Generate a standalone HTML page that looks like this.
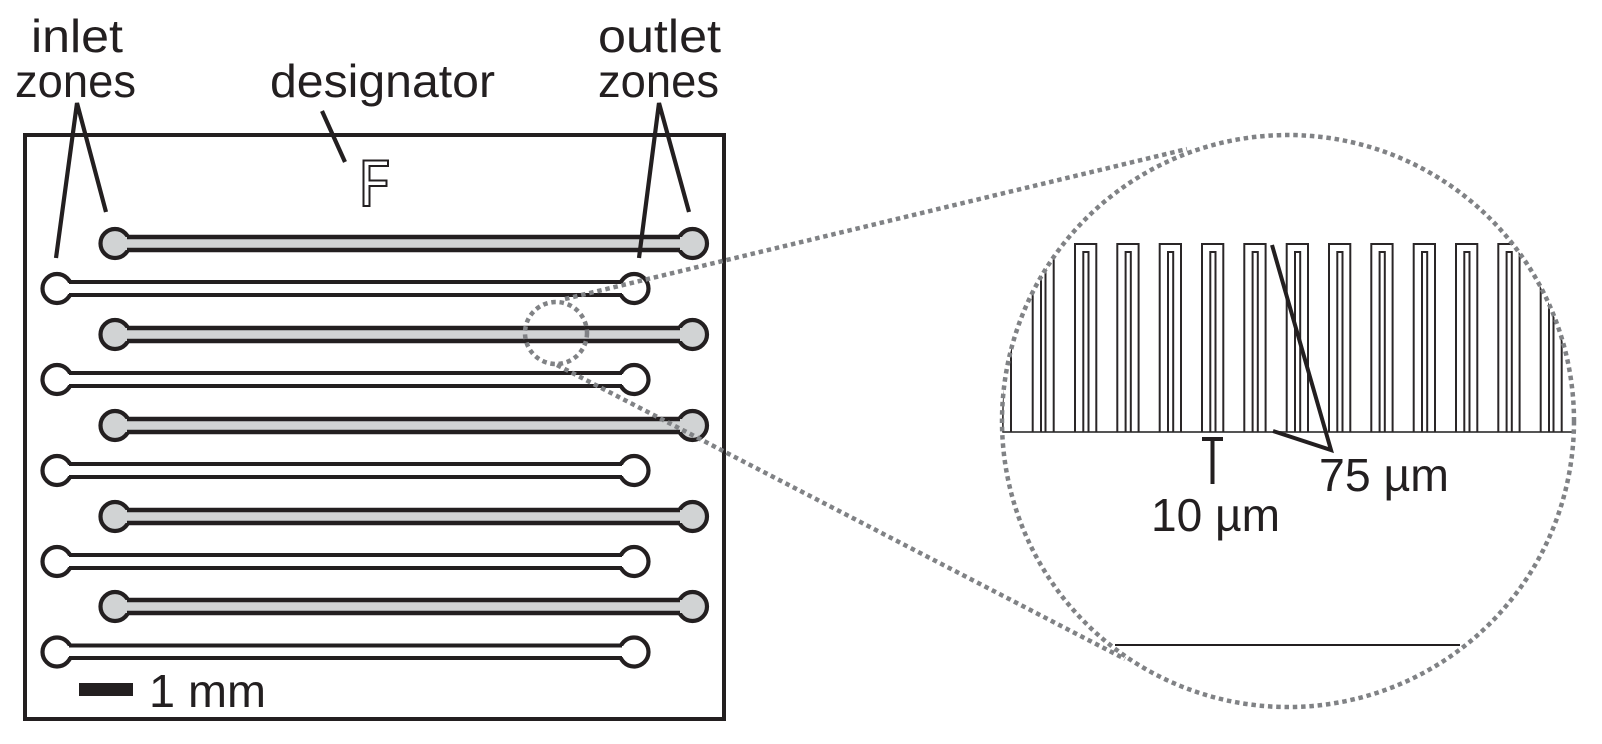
<!DOCTYPE html>
<html><head><meta charset="utf-8"><style>
html,body{margin:0;padding:0;background:#fff}
svg{display:block}
text{font-family:"Liberation Sans",sans-serif;font-size:46px;fill:#231f20}
</style></head><body>
<svg xmlns="http://www.w3.org/2000/svg" width="1602" height="744" viewBox="0 0 1602 744">
<defs><clipPath id="c"><circle cx="1288" cy="421" r="286"/></clipPath></defs>
<rect width="1602" height="744" fill="#fff"/>
<rect x="25" y="135" width="699" height="584" fill="none" stroke="#231f20" stroke-width="4"/>

<g stroke="#231f20" stroke-width="4.200" fill="#d1d3d4">
<circle cx="115" cy="243.500" r="14.500"/><circle cx="692.500" cy="243.500" r="14.500"/>
<circle cx="115" cy="334.500" r="14.500"/><circle cx="692.500" cy="334.500" r="14.500"/>
<circle cx="115" cy="425.500" r="14.500"/><circle cx="692.500" cy="425.500" r="14.500"/>
<circle cx="115" cy="516.500" r="14.500"/><circle cx="692.500" cy="516.500" r="14.500"/>
<circle cx="115" cy="606.500" r="14.500"/><circle cx="692.500" cy="606.500" r="14.500"/>
</g>
<g fill="#d1d3d4">
<rect x="120" y="237" width="567" height="13"/><rect x="120" y="328" width="567" height="13"/><rect x="120" y="419" width="567" height="13"/><rect x="120" y="510" width="567" height="13"/><rect x="120" y="600" width="567" height="13"/>
</g>
<g stroke="#231f20" stroke-width="4.500" fill="none">
<path d="M127 237H680M127 250H680M127 328H680M127 341H680M127 419H680M127 432H680M127 510H680M127 523H680M127 600H680M127 613H680"/>
</g>
<g stroke="#231f20" stroke-width="4.200" fill="#fff">
<circle cx="57" cy="288.500" r="14.500"/><circle cx="634" cy="288.500" r="14.500"/>
<circle cx="57" cy="379.500" r="14.500"/><circle cx="634" cy="379.500" r="14.500"/>
<circle cx="57" cy="470.500" r="14.500"/><circle cx="634" cy="470.500" r="14.500"/>
<circle cx="57" cy="561.500" r="14.500"/><circle cx="634" cy="561.500" r="14.500"/>
<circle cx="57" cy="652" r="14.500"/><circle cx="634" cy="652" r="14.500"/>
</g>
<g fill="#fff">
<rect x="62" y="283" width="566" height="11"/><rect x="62" y="374" width="566" height="11"/><rect x="62" y="465" width="566" height="11"/><rect x="62" y="556" width="566" height="11"/><rect x="62" y="646" width="566" height="11"/>
</g>
<g stroke="#231f20" stroke-width="4" fill="none">
<path d="M69 282H622M69 295H622M69 373H622M69 386H622M69 464H622M69 477H622M69 555H622M69 568H622M69 645.500H622M69 658H622"/>
</g>

<path d="M363.500 160.500H388V166H369.500V180.500H386.500V186H369.500V206H363.500Z" fill="#fff" stroke="#231f20" stroke-width="2"/>

<g stroke="#231f20" stroke-width="4.200" fill="none">
<path d="M56 258L77 103L106 212"/>
<path d="M639 258L659 103L689 212"/>
<path d="M322 111L345 162"/>
</g>
<rect x="79" y="683" width="54" height="13" fill="#231f20"/>

<g clip-path="url(#c)" fill="none" stroke="#2a2627" stroke-width="2">
<path stroke="#555" d="M1000 432H1576"/>
<path d="M1002.700 432V240M1011 432V240M1032.700 432V240M1041 432V240M1045.500 432V240M1053.700 432V240
M1075 432V244H1096.300V432M1083.300 432V252H1088.500V432
M1117.300 432V244H1138.600V432M1125.600 432V252H1130.800V432
M1159.700 432V244H1181V432M1168 432V252H1173.200V432
M1202 432V244H1223.300V432M1210.300 432V252H1215.500V432
M1244.300 432V244H1265.600V432M1252.600 432V252H1257.800V432
M1286.700 432V244H1308V432M1295 432V252H1300.200V432
M1329 432V244H1350.300V432M1337.300 432V252H1342.500V432
M1371.300 432V244H1392.600V432M1379.600 432V252H1384.800V432
M1413.700 432V244H1435V432M1422 432V252H1427.200V432
M1456 432V244H1477.300V432M1464.300 432V252H1469.500V432
M1498.300 432V244H1519.600V432M1506.600 432V252H1511.800V432
M1540.700 432V240M1549 432V240M1553.500 432V240M1561.700 432V240"/>
</g>
<path d="M1115 645H1460" stroke="#231f20" stroke-width="2"/>

<g stroke="#231f20" stroke-width="4" fill="none">
<path d="M1272 245L1331 450L1273 431"/>
<path d="M1202 439H1223M1212.500 439V484"/>
</g>

<g fill="none" stroke="#808285" stroke-width="4.500" stroke-dasharray="4.500 3.800">
<circle cx="1288" cy="421" r="286"/>
<circle cx="556" cy="333" r="31"/>
<path d="M565 299L1187 149"/>
<path d="M557 365L1125 659"/>
</g>

<text x="31" y="52" textLength="92" lengthAdjust="spacingAndGlyphs">inlet</text>
<text x="15" y="97" textLength="121" lengthAdjust="spacingAndGlyphs">zones</text>
<text x="270" y="97" textLength="225" lengthAdjust="spacingAndGlyphs">designator</text>
<text x="598" y="52" textLength="123" lengthAdjust="spacingAndGlyphs">outlet</text>
<text x="598" y="97" textLength="121" lengthAdjust="spacingAndGlyphs">zones</text>
<text x="149" y="707" textLength="117" lengthAdjust="spacingAndGlyphs">1 mm</text>
<text x="1319" y="491" textLength="130" lengthAdjust="spacingAndGlyphs">75 µm</text>
<text x="1151" y="531" textLength="129" lengthAdjust="spacingAndGlyphs">10 µm</text>
</svg>
</body></html>
